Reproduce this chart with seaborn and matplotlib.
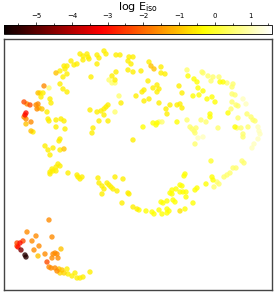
import matplotlib
matplotlib.use("Agg")
import matplotlib.pyplot as plt
import numpy as np
import pandas as pd
import seaborn as sns
from matplotlib.cm import ScalarMappable
from matplotlib.colors import Normalize
from matplotlib.ticker import MultipleLocator

# embedding coordinates, plus log E_iso per point
umap_x = [
    80, 83, 87, 88, 83, 89, 71, 77, 74, 64, 67, 65, 60, 67, 56, 97, 99, 97, 104, 106,
    116, 120, 129, 133, 128, 131, 128, 133, 91, 112, 116, 109, 112, 115, 115, 60, 63, 63, 67, 44,
    49, 38, 40, 43, 41, 50, 51, 24, 27, 30, 36, 38, 39, 37, 42, 47, 26, 25, 24, 26,
    31, 26, 31, 33, 48, 49, 56, 61, 64, 56, 65, 90, 97, 101, 104, 106, 108, 99, 104, 108,
    93, 92, 119, 121, 115, 136, 133, 60, 59, 45, 48, 53, 60, 64, 50, 58, 60, 56, 52,
    # upper right arc
    149, 151, 154, 161, 161, 165, 141, 148, 144, 142, 153, 157, 159, 157, 144, 149, 159, 166, 167, 170,
    177, 180, 182, 179, 182, 187, 188, 194, 197, 198, 193, 199, 203, 202, 203, 208, 213, 211, 207, 212,
    215, 219, 220, 223, 227, 233, 232, 232, 235, 243, 246, 232, 236, 238, 231, 228, 238, 247, 251, 253,
    255, 210, 210, 206, 201, 187, 177, 153, 157, 159, 162, 156, 143, 218, 235, 237, 241, 248, 243, 243,
    258, 259, 260, 258, 254, 252, 190, 192, 194, 196, 195, 198, 203, 195, 211, 242, 244, 233, 236,
    # lower left block
    50, 53, 56, 50, 68, 77, 78, 82, 80, 98, 99, 102, 104, 102, 107, 109, 111, 115, 123, 113,
    117, 128, 129, 122, 133, 137, 49, 27, 36, 32, 52, 23, 20, 17, 17, 18, 21, 25, 26, 34,
    38, 39, 45, 55, 57, 53, 61, 58, 52, 47, 49, 51, 55, 57, 59, 62, 60, 64, 67, 68,
    72, 75, 77, 80, 83, 90,
    # lower right arc
    230, 227, 224, 185, 184, 212, 213, 206, 217, 219, 214, 197, 195, 180, 182, 176, 172, 170, 172, 180,
    183, 186, 186, 173, 175, 167, 163, 161, 193, 159, 167, 169, 167, 162, 154, 152, 146, 180, 185, 139,
]
umap_y = [
    241, 239, 241, 238, 235, 236, 234, 231, 230, 229, 229, 226, 224, 221, 222, 240, 237, 231, 244, 241,
    240, 240, 238, 238, 234, 231, 225, 223, 218, 219, 223, 215, 212, 212, 215, 211, 218, 206, 203, 209,
    207, 202, 202, 202, 198, 196, 192, 193, 191, 190, 190, 191, 187, 186, 186, 183, 182, 180, 178, 176,
    173, 171, 164, 163, 176, 174, 175, 176, 174, 168, 166, 185, 183, 184, 186, 188, 190, 174, 180, 174,
    167, 162, 199, 192, 183, 199, 155, 156, 154, 149, 145, 147, 145, 146, 140, 131, 129, 128, 126,
    233, 229, 226, 228, 222, 221, 224, 214, 205, 203, 207, 210, 206, 203, 194, 196, 192, 186, 181, 190,
    190, 191, 187, 209, 202, 225, 219, 216, 213, 207, 199, 200, 204, 223, 222, 219, 218, 214, 196, 198,
    193, 218, 213, 213, 212, 211, 208, 201, 200, 196, 191, 193, 190, 189, 186, 182, 177, 181, 178, 175,
    174, 181, 178, 173, 175, 175, 173, 172, 172, 173, 173, 170, 168, 167, 168, 167, 167, 168, 161, 158,
    168, 164, 161, 156, 151, 147, 168, 166, 164, 167, 162, 157, 158, 151, 134, 134, 132, 127, 127,
    123, 124, 124, 121, 122, 120, 118, 118, 116, 117, 112, 109, 106, 101, 112, 110, 108, 118, 116, 106,
    104, 102, 101, 92, 88, 86, 75, 63, 59, 54, 58, 54, 52, 52, 49, 48, 45, 40, 38, 45,
    39, 49, 41, 42, 41, 41, 46, 37, 37, 33, 28, 27, 27, 24, 26, 25, 22, 22, 26, 21,
    19, 22, 17, 17, 18, 23,
    122, 120, 118, 121, 119, 118, 115, 111, 113, 111, 108, 107, 105, 110, 109, 106, 105, 102, 101, 103,
    103, 103, 98, 95, 93, 94, 92, 93, 92, 85, 86, 84, 82, 81, 81, 83, 84, 84, 86, 85,
]
log_eiso = [
    -0.5, -0.5, -0.5, -0.5, -0.5, -0.5, -0.5, -0.5, -0.5, -0.5, -0.5, -0.5, -0.5, -0.5, -1.0, -0.5, -0.5, -0.5, -0.5, -0.5,
    -0.5, -0.5, -0.5, -0.5, -0.5, -0.5, -0.5, -0.5, -0.5, -0.5, -0.5, 0.5, 0.5, 0.5, -0.5, -0.5, -0.5, -0.5, -0.5, -1.6,
    0.5, -1.0, -0.5, -0.5, -0.5, -0.5, -0.5, -2.3, -1.6, -2.3, -1.6, -1.6, -1.0, -1.6, -1.0, -0.5, -3.0, -3.0, -1.6, -1.6,
    -1.6, -1.0, -1.0, -0.5, -0.5, -0.5, -0.5, -0.5, -0.5, -0.5, -0.5, -0.5, -0.5, -0.5, -0.5, -0.5, -0.5, -0.5, -0.5, -0.5,
    -0.5, -0.5, 0.5, -0.5, 0.5, -0.5, -0.5, -0.5, -0.5, -0.5, -0.5, -0.5, -0.5, -1.0, -0.5, -0.5, -0.5, -0.5, -0.5,
    -0.5, -1.0, -1.0, -0.5, -0.5, -0.5, -0.5, -0.5, -0.5, -0.5, -0.5, -0.5, -0.5, -0.5, -0.5, -0.5, -0.5, -0.5, -0.5, -0.5,
    -0.5, -0.5, -0.5, -0.5, -0.5, 0.5, -0.3, -0.3, -0.3, -0.3, -0.3, -0.3, -0.3, 0.5, 0.5, 0.5, 0.5, 0.5, -0.3, -0.3,
    -0.3, 0.5, -0.3, -0.3, 0.5, 0.5, 0.5, 0.5, 0.5, 1.1, 1.1, 0.5, 0.5, 0.5, 0.5, -0.3, 0.5, 0.5, 0.5, 0.5,
    0.5, -0.3, -0.3, 0.5, 0.5, 0.5, -0.3, -0.3, -0.3, 0.5, 0.5, -0.3, -0.3, 0.5, -0.3, 0.5, 0.5, 0.5, 0.5, 0.5,
    1.1, 1.1, 1.1, 1.1, 1.1, 1.1, 0.5, 0.5, 0.5, 0.5, 0.5, 1.1, 1.1, 0.5, 0.0, 0.5, 0.5, 0.5, 0.5,
    -0.5, -0.5, -0.5, -0.5, -0.5, -0.5, -0.5, -0.5, -0.5, -0.5, -0.5, -0.5, -0.5, -0.5, -0.5, -0.5, -0.5, -0.5, -0.5, -0.5,
    -0.5, -0.5, -0.5, -0.5, -0.5, -0.5, -1.6, -1.6, -1.6, -1.6, -1.6, -2.3, -3.0, -2.3, -2.3, -3.0, -4.6, -5.6, -5.6, -1.6,
    -1.0, -1.6, -1.6, -1.6, -1.6, -1.6, -1.0, -1.6, -1.6, -2.3, -1.6, -1.6, -1.6, -1.6, -1.0, -1.0, -0.8, -0.8, -0.5, -0.5,
    -0.5, -0.5, -0.5, -0.5, -0.5, -0.5,
    0.5, 0.5, 0.5, -0.3, -0.3, -0.3, -0.3, -0.3, 0.5, 0.5, 0.5, -0.3, -0.3, -0.3, -0.3, -0.3, -0.3, -0.3, -0.3, -0.3,
    -0.3, -0.3, -0.3, -0.3, -0.3, -0.3, -0.3, -0.3, -0.3, -0.3, -0.3, -0.3, -0.3, -0.3, -0.3, -0.3, -0.3, -0.6, -0.3, -0.3,
]

vmin, vmax = -5.9, 1.6
cbar_ticks = [-5, -4, -3, -2, -1, 0, 1]

df = pd.DataFrame({"x": umap_x, "y": umap_y, "log_eiso": log_eiso})
df = df.sort_values("log_eiso", ascending=False)

fig = plt.figure(figsize=(2.77, 2.95), dpi=100)
ax = fig.add_axes([0.0144, 0.017, 0.9675, 0.851])
cax = fig.add_axes([0.0144, 0.8847, 0.9675, 0.0305])

sns.scatterplot(data=df, x="x", y="y", hue="log_eiso", palette="hot",
                hue_norm=(vmin, vmax), legend=False, s=15, alpha=0.8,
                linewidth=0, ax=ax)
ax.set_xlim(4, 272)
ax.set_ylim(5, 256)
ax.set_xticks([])
ax.set_yticks([])
ax.set_xlabel("")
ax.set_ylabel("")
for sp in ax.spines.values():
    sp.set_color("#444444")
    sp.set_linewidth(1.0)

sm = ScalarMappable(norm=Normalize(vmin, vmax), cmap="hot")
cb = fig.colorbar(sm, cax=cax, orientation="horizontal", ticks=cbar_ticks)
cb.outline.set_linewidth(0.6)
cax.xaxis.set_ticks_position("top")
cax.xaxis.set_label_position("top")
cax.xaxis.set_minor_locator(MultipleLocator(0.5))
cax.tick_params(which="major", labelsize=5, length=2.5, width=0.5, pad=1.5)
cax.tick_params(which="minor", length=1.5, width=0.5)
cax.set_xticklabels([f"\u2212{abs(t)}" if t < 0 else str(t) for t in cbar_ticks])
cax.set_xlabel(r"log E$_{\mathrm{iso}}$", fontsize=8, labelpad=2.5)

fig.savefig("out.png", dpi=100)
